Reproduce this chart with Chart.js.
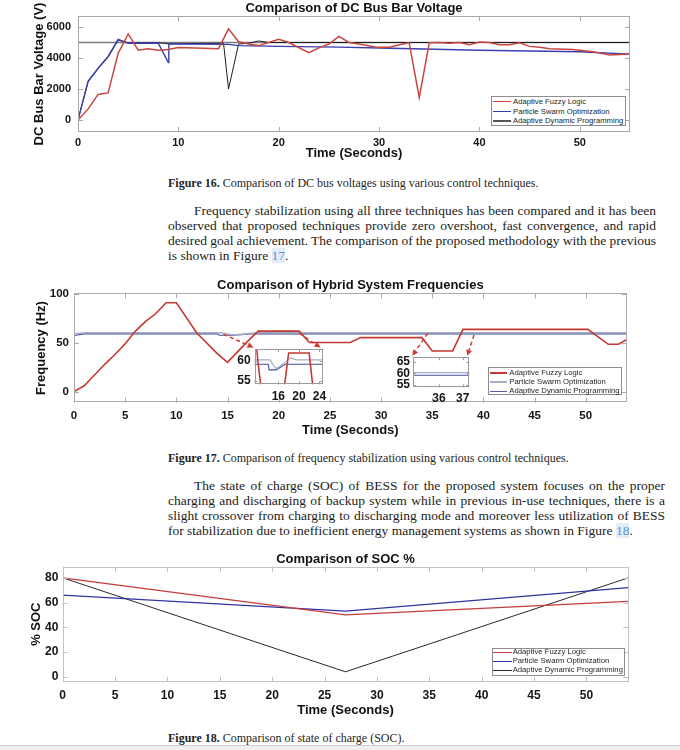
<!DOCTYPE html>
<html><head><meta charset="utf-8">
<script src="https://cdn.jsdelivr.net/npm/chart.js@4.4.0/dist/chart.umd.min.js"></script>
<style>
html,body{margin:0;padding:0;background:#fff;}
#page{position:relative;width:680px;height:750px;overflow:hidden;background:#fff;}
canvas.cv{position:absolute;}
.txt{position:absolute;white-space:nowrap;font-family:'Liberation Serif','Times New Roman',serif;color:#1c1c1c;}
.para{font-size:13.5px;line-height:15px;height:15px;}
.cap{font-size:12px;line-height:13px;height:13px;color:#262626;}
.lnk{color:#5a92cf;background:#e3ecf8;}
.legend{position:absolute;border:1px solid #8e8e8e;background:#fff;font-family:'Liberation Sans',Arial,sans-serif;font-size:7.7px;color:#1e1e1e;box-sizing:border-box;}
.lrow{position:absolute;height:10px;line-height:10px;white-space:nowrap;}
.lsw{position:absolute;height:0;}
#foot{position:absolute;left:0;top:745px;width:680px;height:5px;border-top:1px solid #cfcfcf;background:#efefef;}
</style></head>
<body><div id="page">
<canvas id="c1" class="cv" width="680" height="165" style="left:0;top:0"></canvas>
<canvas id="c2" class="cv" width="680" height="172" style="left:0;top:270px"></canvas>
<canvas id="i1" class="cv" width="105" height="66" style="left:225px;top:340px"></canvas>
<canvas id="i2" class="cv" width="95" height="58" style="left:385px;top:350px"></canvas>
<canvas id="c3" class="cv" width="680" height="175" style="left:0;top:545px"></canvas>
<div id="foot"></div>
</div>
<script>
// ---------------- data ----------------
const seriesNames = ['Adaptive Fuzzy Logic', 'Particle Swarm Optimization', 'Adaptive Dynamic Programming'];

// Figure 16: DC bus bar voltage (V) vs time (s)
const voltAflT = [0,1,2,3,4,5,6,7,8,9,10,14,15,16,17,18,20,21,23,24,25,26,27,28,29.7,31,32.7,33,34,35,36,37,38,39,40,41,42,43,44,45,46,47,49.3,51.3,53,55];
const voltAflV = [0,700,1650,1750,4300,5550,4500,4600,4500,4550,4680,4600,5880,5050,4900,4800,5200,5000,4350,4650,4900,5400,5000,4900,4700,4700,4950,4980,1450,4980,5000,4950,5000,4850,5030,5000,4850,4850,4980,4750,4700,4600,4550,4400,4200,4250];
const voltPsoT = [0,1,2,3,4,5,8,9,9.05,10,15,16,20,26,30,40,50,55];
const voltPsoV = [0,2500,3350,4100,5200,4950,4950,3700,4900,4900,4880,4800,4750,4700,4650,4500,4400,4250];
const voltAdpT = [0,1,2,3,4,5,8,9,14.5,15,16,17,18,19,21,55];
const voltAdpV = [0,2450,3300,4050,5150,4980,4980,4920,4950,2000,4900,4950,5100,5000,5000,5000];
const voltRefT = [0,55];
const voltRefV = [5000,5000];
const voltXTicks = [0,10,20,30,40,50];
const voltYTicks = [0,2000,4000,6000];

// Figure 17: frequency (Hz) vs time (s)
const freqAflT = [0,1,2,3,4,5,6,7,8,9,10,12,14,15,16,17,18,22,23,27,28,34,35,37,38,50.2,52.2,53.2,54.2];
const freqAflV = [0,6,17,28,38,49,62,72,80,91,91,60,39,30,41,52,62,62,50.3,50.3,55.3,55.3,41.7,41.7,63.8,63.8,48.5,48.5,54.6];
const freqPsoT = [0,1,14.4,15.4,16,18.4,19.5,54];
const freqPsoV = [59,60.3,60.3,58.2,58.4,60.8,60.3,60.3];
const freqAdpT = [0,1,14,14.2,15.6,17.3,54];
const freqAdpV = [57.5,59.2,59.2,57.8,57.8,59.2,59.2];
const freqXTicks = [0,5,10,15,20,25,30,35,40,45,50];
const freqYTicks = [0,50,100];
const inset1XTicks = [16,20,24];
const inset1YTicks = [55,60];
const inset2XTicks = [36,37];
const inset2YTicks = [55,60,65];
// arrow start points (time, Hz) -> inset, corner
const arrowLinks = [[14.6,58.7,0,'left'],[22.0,59.8,0,'right'],[34.56,59.8,1,'left'],[39.08,58.0,1,'right']];

// Figure 18: SOC (%) vs time (s)
const socT = [0,27,54];
const socAfl = [80,50,61];
const socPso = [66,53,72];
const socAdp = [80,4,80];
const socXTicks = [0,5,10,15,20,25,30,35,40,45,50];
const socYTicks = [0,20,40,60,80];

// ---------------- helpers ----------------
const FONT = "'Liberation Sans', Arial, Helvetica, sans-serif";
function pts(t, v) { return t.map((x, i) => ({x: x, y: v[i]})); }
function lineDS(label, t, v, color, width) {
  return {label: label, data: pts(t, v), borderColor: color, borderWidth: width, pointRadius: 0, fill: false, tension: 0};
}

const framePlugin = {
  id: 'frame',
  beforeDatasetsDraw(chart, args, o) {
    if (o.fill) { const a = chart.chartArea; chart.ctx.save(); chart.ctx.fillStyle = o.fill; chart.ctx.fillRect(a.left, a.top, a.right - a.left, a.bottom - a.top); chart.ctx.restore(); }
  },
  afterDatasetsDraw(chart, args, o) {
    const {ctx, chartArea: a} = chart; const x = chart.scales.x, y = chart.scales.y;
    ctx.save();
    ctx.strokeStyle = o.color; ctx.lineWidth = 1;
    ctx.strokeRect(Math.round(a.left) + 0.5, Math.round(a.top) + 0.5, Math.round(a.right - a.left) - 1, Math.round(a.bottom - a.top) - 1);
    ctx.beginPath();
    x.ticks.forEach(tk => { const p = Math.round(x.getPixelForValue(tk.value)) + 0.5; ctx.moveTo(p, a.bottom); ctx.lineTo(p, a.bottom - o.len); ctx.moveTo(p, a.top); ctx.lineTo(p, a.top + o.len); });
    y.ticks.forEach(tk => { const p = Math.round(y.getPixelForValue(tk.value)) + 0.5; ctx.moveTo(a.left, p); ctx.lineTo(a.left + o.len, p); ctx.moveTo(a.right, p); ctx.lineTo(a.right - o.len, p); });
    ctx.stroke(); ctx.restore();
  }
};

function zeroPad(s) { s.paddingLeft = 0; s.paddingRight = 0; s.paddingTop = 0; s.paddingBottom = 0; }

function build(id, g, datasets, xr, yr, extra) {
  const lhT = 13 * 1.2, lhK = g.tick * 1.2;
  const tickFont = {family: FONT, size: g.tick, weight: 'bold', lineHeight: 1.2};
  const titleFont = {family: FONT, size: 13, weight: 'bold', lineHeight: 1.2};
  const opts = {
    responsive: false, animation: false,
    layout: {padding: {left: 0, top: g.title ? 0 : g.T, right: g.W - g.R, bottom: 0}},
    plugins: {
      legend: {display: false}, tooltip: {enabled: false},
      title: g.title ? {display: true, text: g.title, fullSize: false, color: '#111', font: titleFont,
        padding: {top: g.titleCY - lhT / 2, bottom: g.T - g.titleCY - lhT / 2}} : {display: false},
      frame: {color: g.frame, len: g.len, fill: g.fill || null}
    },
    scales: {
      x: {type: 'linear', min: xr.min, max: xr.max,
        afterBuildTicks: s => { s.ticks = xr.ticks.map(v => ({value: v})); },
        grid: {display: false, drawTicks: false}, border: {display: false},
        ticks: {font: tickFont, color: '#151515', padding: g.xTickCY - g.B - lhK / 2, maxRotation: 0, autoSkip: false, callback: v => String(v)},
        title: g.xTitle ? {display: true, text: g.xTitle, color: '#111', font: titleFont, padding: {top: 0, bottom: g.H - g.xTitleCY - lhT / 2}} : {display: false},
        afterFit: s => { s.height = g.H - g.B; zeroPad(s); }
      },
      y: {type: 'linear', min: yr.min, max: yr.max,
        afterBuildTicks: s => { s.ticks = yr.ticks.map(v => ({value: v})); },
        grid: {display: false, drawTicks: false}, border: {display: false},
        ticks: {font: tickFont, color: '#151515', padding: g.L - g.yTickRight, autoSkip: false, callback: v => String(v)},
        title: g.yTitle ? {display: true, text: g.yTitle, color: '#111', font: titleFont, padding: {top: g.yTitleCX - lhT / 2, bottom: 0}} : {display: false},
        afterFit: s => { s.width = g.L; zeroPad(s); }
      }
    }
  };
  return new Chart(document.getElementById(id), {type: 'line', data: {datasets: datasets}, options: opts, plugins: [framePlugin].concat(extra || [])});
}

function legend(box, rows) {
  const d = document.createElement('div'); d.className = 'legend';
  Object.assign(d.style, {left: box.l + 'px', top: box.t + 'px', width: box.w + 'px', height: box.h + 'px'});
  rows.forEach((r, i) => {
    const cy = box.rows[i] - box.t - 1;
    const sw = document.createElement('div'); sw.className = 'lsw';
    Object.assign(sw.style, {left: (box.sx - box.l - 1) + 'px', width: box.sw + 'px', top: (cy - r.w / 2) + 'px', borderTop: r.w + 'px solid ' + r.c});
    const tx = document.createElement('div'); tx.className = 'lrow'; tx.textContent = r.name;
    Object.assign(tx.style, {left: (box.tx - box.l - 1) + 'px', top: (cy - 5) + 'px'});
    d.appendChild(sw); d.appendChild(tx);
  });
  document.getElementById('page').appendChild(d);
}

// ---------------- Figure 16 ----------------
const C1 = {afl: '#c8463f', pso: '#3a3eae', adp: '#1c1c1c', ref: '#7c7c7c'};
build('c1', {W: 680, H: 165, L: 78, T: 16, R: 630, B: 132, title: 'Comparison of DC Bus Bar Voltage', titleCY: 8.1,
  tick: 11, xTickCY: 143.3, xTitle: 'Time (Seconds)', xTitleCY: 153.3, yTickRight: 71, yTitle: 'DC Bus Bar Voltage (V)', yTitleCX: 39,
  frame: '#a9a9a9', len: 5},
  [lineDS(seriesNames[0], voltAflT, voltAflV, C1.afl, 1.5),
   lineDS(seriesNames[1], voltPsoT, voltPsoV, C1.pso, 1.4),
   lineDS(seriesNames[2], voltAdpT, voltAdpV, C1.adp, 1),
   lineDS('Reference', voltRefT, voltRefV, C1.ref, 1.6)],
  {min: 0, max: 55, ticks: voltXTicks}, {min: -775, max: 6710, ticks: voltYTicks});
legend({l: 491, t: 96, w: 135, h: 30, rows: [101.7, 111.5, 121], sx: 493, sw: 18, tx: 513},
  [{name: seriesNames[0], c: C1.afl, w: 1.5}, {name: seriesNames[1], c: C1.pso, w: 1.5}, {name: seriesNames[2], c: '#555', w: 2.5}]);

// ---------------- Figure 17 ----------------
const C2 = {afl: '#c33a32', pso: '#a7aec7', adp: '#3f4f98'};
function freqSets(wPso, wAdp) {
  return [lineDS(seriesNames[0], freqAflT, freqAflV, C2.afl, 1.6),
          lineDS(seriesNames[1], freqPsoT, freqPsoV, C2.pso, wPso),
          lineDS(seriesNames[2], freqAdpT, freqAdpV, C2.adp, wAdp)];
}
const insets = [
  build('i1', {W: 105, H: 66, L: 29.5, T: 9, R: 97.5, B: 44.3, tick: 12, xTickCY: 56.5, yTickRight: 25.7, frame: '#9a9a9a', len: 3, fill: '#fff'},
    freqSets(1.2, 1.1), {min: 11.35, max: 24.6, ticks: inset1XTicks}, {min: 54.2, max: 63, ticks: inset1YTicks}),
  build('i2', {W: 95, H: 58, L: 28.3, T: 7.3, R: 84.3, B: 37.3, tick: 12, xTickCY: 48.3, yTickRight: 25, frame: '#9a9a9a', len: 3, fill: '#fff'},
    freqSets(1.1, 1.1), {min: 34.92, max: 37.28, ticks: inset2XTicks}, {min: 54.0, max: 66.9, ticks: inset2YTicks})
];
const arrowPlugin = {
  id: 'zoomArrows',
  afterDatasetsDraw(chart) {
    const {ctx} = chart; const x = chart.scales.x, y = chart.scales.y; const c0 = chart.canvas;
    arrowLinks.forEach(([tx, fy, k, corner]) => {
      const ic = insets[k]; const a = ic.chartArea;
      const ox = ic.canvas.offsetLeft - c0.offsetLeft, oy = ic.canvas.offsetTop - c0.offsetTop;
      const ex = ox + (corner === 'left' ? a.left - 1 : a.right - 2), ey = oy + a.top - 1.5;
      const sx = x.getPixelForValue(tx), sy = y.getPixelForValue(fy);
      const ang = Math.atan2(ey - sy, ex - sx), hl = 6, hw = 3;
      const bx = ex - hl * Math.cos(ang), by = ey - hl * Math.sin(ang);
      ctx.save(); ctx.strokeStyle = '#d23a32'; ctx.fillStyle = '#d23a32'; ctx.lineWidth = 1.5; ctx.setLineDash([4, 3]);
      ctx.beginPath(); ctx.moveTo(sx, sy); ctx.lineTo(bx, by); ctx.stroke();
      ctx.setLineDash([]); ctx.beginPath(); ctx.moveTo(ex, ey);
      ctx.lineTo(bx + hw * Math.sin(ang), by - hw * Math.cos(ang)); ctx.lineTo(bx - hw * Math.sin(ang), by + hw * Math.cos(ang));
      ctx.closePath(); ctx.fill(); ctx.restore();
    });
  }
};
build('c2', {W: 680, H: 172, L: 74, T: 23.3, R: 626.7, B: 132.7, title: 'Comparison of Hybrid System Frequencies', titleCY: 15,
  tick: 11.5, xTickCY: 145.7, xTitle: 'Time (Seconds)', xTitleCY: 160.7, yTickRight: 69, yTitle: 'Frequency (Hz)', yTitleCX: 41.7,
  frame: '#ababab', len: 5},
  freqSets(1.6, 1.1), {min: 0, max: 54, ticks: freqXTicks}, {min: -11.3, max: 100.7, ticks: freqYTicks}, [arrowPlugin]);
legend({l: 487.7, t: 367.3, w: 134, h: 27.7, rows: [373.3, 382.3, 391.3], sx: 490, sw: 17, tx: 509.3},
  [{name: seriesNames[0], c: C2.afl, w: 2}, {name: seriesNames[1], c: C2.pso, w: 2}, {name: seriesNames[2], c: '#56609a', w: 1}]);

// ---------------- Figure 18 ----------------
const C3 = {afl: '#c23d3d', pso: '#3232a2', adp: '#2a2a2a'};
build('c3', {W: 680, H: 175, L: 62.7, T: 21.7, R: 628.3, B: 136.7, title: 'Comparison of SOC %', titleCY: 14.5,
  tick: 12, xTickCY: 150.7, xTitle: 'Time (Seconds)', xTitleCY: 165.7, yTickRight: 58.3, yTitle: '% SOC', yTitleCX: 36.7,
  frame: '#c2c2c2', len: 5},
  [lineDS(seriesNames[0], socT, socAfl, C3.afl, 1.3),
   lineDS(seriesNames[1], socT, socPso, C3.pso, 1.3),
   lineDS(seriesNames[2], socT, socAdp, C3.adp, 1)],
  {min: 0, max: 54, ticks: socXTicks}, {min: -4, max: 89, ticks: socYTicks});
legend({l: 491.7, t: 648.3, w: 133.3, h: 27.5, rows: [652.3, 661.3, 670.3], sx: 493.3, sw: 18.4, tx: 512.7},
  [{name: seriesNames[0], c: C3.afl, w: 1.3}, {name: seriesNames[1], c: C3.pso, w: 1.3}, {name: seriesNames[2], c: C3.adp, w: 1.3}]);

// ---------------- page text ----------------
const textLines = [
  {cls: 'cap', cy: 183, x: 168, h: '<b>Figure 16.</b> Comparison of DC bus voltages using various control techniques.'},
  {cls: 'para', cy: 210, x: 194, r: 656, h: 'Frequency stabilization using all three techniques has been compared and it has been'},
  {cls: 'para', cy: 225, x: 168, r: 656, h: 'observed that proposed techniques provide zero overshoot, fast convergence, and rapid'},
  {cls: 'para', cy: 240, x: 168, r: 656, h: 'desired goal achievement. The comparison of the proposed methodology with the previous'},
  {cls: 'para', cy: 255, x: 168, h: 'is shown in Figure <span class="lnk">17</span>.'},
  {cls: 'cap', cy: 458, x: 168, h: '<b>Figure 17.</b> Comparison of frequency stabilization using various control techniques.'},
  {cls: 'para', cy: 485, x: 194, r: 665, h: 'The state of charge (SOC) of BESS for the proposed system focuses on the proper'},
  {cls: 'para', cy: 500, x: 168, r: 665, h: 'charging and discharging of backup system while in previous in-use techniques, there is a'},
  {cls: 'para', cy: 515, x: 168, r: 665, h: 'slight crossover from charging to discharging mode and moreover less utilization of BESS'},
  {cls: 'para', cy: 530, x: 168, h: 'for stabilization due to inefficient energy management systems as shown in Figure <span class="lnk">18</span>.'},
  {cls: 'cap', cy: 738, x: 168, h: '<b>Figure 18.</b> Comparison of state of charge (SOC).'}
];
const page = document.getElementById('page');
textLines.forEach(L => {
  const d = document.createElement('div'); d.className = 'txt ' + L.cls; d.innerHTML = L.h;
  const lh = L.cls === 'para' ? 15 : 13;
  d.style.left = L.x + 'px'; d.style.top = (L.cy - lh / 2) + 'px';
  page.appendChild(d);
  if (L.r) {
    const nat = d.getBoundingClientRect().width;
    const spaces = (d.textContent.match(/ /g) || []).length;
    if (spaces) d.style.wordSpacing = ((L.r - L.x - nat) / spaces) + 'px';
  }
});
</script>
</body></html>
